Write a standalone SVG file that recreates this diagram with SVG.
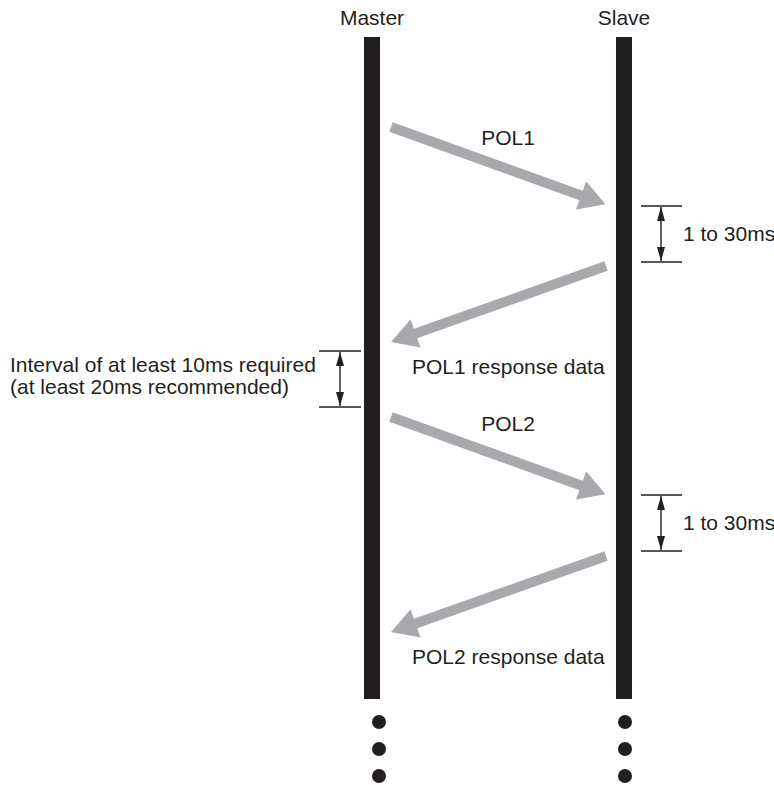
<svg xmlns="http://www.w3.org/2000/svg" xmlns:xlink="http://www.w3.org/1999/xlink" width="774" height="785" viewBox="0 0 774 785">
<style>
text{font-family:"Liberation Sans",Arial,sans-serif;font-size:21px;fill:#231f20}
.bar{fill:#231f20}
.dot{fill:#231f20}
.msg{fill:#a7a9ac}
.tick{stroke:#231f20;stroke-width:1.4;fill:none}
.dim{stroke:#231f20;stroke-width:1.4;fill:none;marker-start:url(#ah);marker-end:url(#ah)}
</style>
<defs>
<path id="big" d="M0,-5 L202,-5 L202,-15 L228,0 L202,15 L202,5 L0,5 Z"/>
<marker id="ah" viewBox="0 0 14 8" refX="14" refY="4" markerWidth="14" markerHeight="8" markerUnits="userSpaceOnUse" orient="auto-start-reverse">
<path d="M0,0 L14,4 L0,8 Z" fill="#231f20"/>
</marker>
</defs>
<g id="master">
<text x="372" y="25" text-anchor="middle">Master</text>
<rect class="bar" x="364" y="37" width="16" height="662"/>
<circle class="dot" cx="379" cy="722" r="7"/>
<circle class="dot" cx="379" cy="749" r="7"/>
<circle class="dot" cx="379" cy="776" r="7"/>
</g>
<g id="slave">
<text x="624" y="25" text-anchor="middle">Slave</text>
<rect class="bar" x="616" y="37" width="16" height="662"/>
<circle class="dot" cx="625" cy="722" r="7"/>
<circle class="dot" cx="625" cy="749" r="7"/>
<circle class="dot" cx="625" cy="776" r="7"/>
</g>
<g id="connectors">
<use xlink:href="#big" class="msg" transform="translate(391,127) rotate(19.8)"/>
<use xlink:href="#big" class="msg" transform="translate(606,266) rotate(160.5)"/>
<use xlink:href="#big" class="msg" transform="translate(391,417) rotate(19.8)"/>
<use xlink:href="#big" class="msg" transform="translate(606,556) rotate(160.5)"/>
</g>
<g id="labels">
<text x="508" y="145" text-anchor="middle">POL1</text>
<text x="412" y="374">POL1 response data</text>
<text x="508" y="431" text-anchor="middle">POL2</text>
<text x="412" y="664">POL2 response data</text>
</g>
<g id="wait1">
<line class="tick" x1="641" y1="206" x2="682" y2="206"/>
<line class="tick" x1="641" y1="262" x2="682" y2="262"/>
<line class="dim" x1="661" y1="207" x2="661" y2="261"/>
<text x="683" y="241">1 to 30ms</text>
</g>
<g id="wait2">
<line class="tick" x1="641" y1="495" x2="682" y2="495"/>
<line class="tick" x1="641" y1="551" x2="682" y2="551"/>
<line class="dim" x1="661" y1="496" x2="661" y2="550"/>
<text x="683" y="530">1 to 30ms</text>
</g>
<g id="interval">
<line class="tick" x1="319" y1="351" x2="361" y2="351"/>
<line class="tick" x1="319" y1="407" x2="361" y2="407"/>
<line class="dim" x1="340" y1="352" x2="340" y2="406"/>
<text x="10" y="372">Interval of at least 10ms required</text>
<text x="10" y="394">(at least 20ms recommended)</text>
</g>
</svg>
